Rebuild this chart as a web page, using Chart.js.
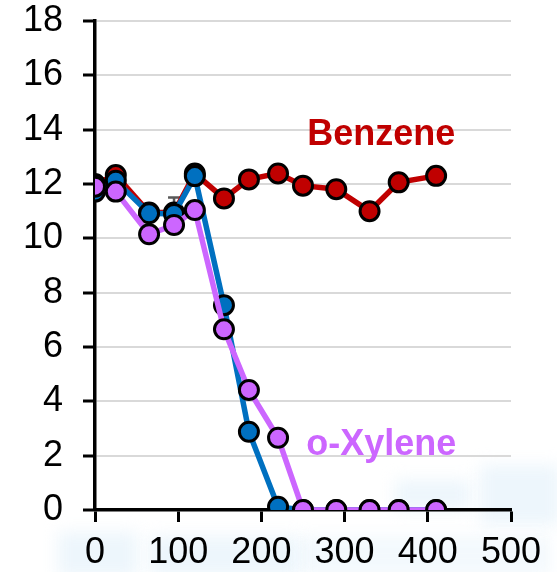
<!DOCTYPE html>
<html>
<head>
<meta charset="utf-8">
<script src="https://cdn.jsdelivr.net/npm/chart.js@4"></script>
<style>
  html, body { margin: 0; padding: 0; background: #fff; }
  #wrap { width: 557px; height: 572px; }
</style>
</head>
<body>
<div id="wrap"><canvas id="myChart" width="557" height="572"></canvas></div>
<script>
// sampling times
var times = [0, 25, 65, 95, 120, 155, 185, 220, 250, 290, 330, 365, 410];

// concentrations per compound
var benzene = [12.0, 12.33, 10.95, 10.95, 12.39, 11.47, 12.17, 12.39, 11.94, 11.81, 11.0, 12.06, 12.3];
var benzeneErr = [0, 0, 0, 0.55, 0, 0, 0, 0, 0, 0.25, 0, 0, 0.3];
var toluene = [11.72, 12.12, 10.92, 10.9, 12.29, 7.54, 2.88, 0.12, 0, 0, 0, 0, 0];
var oXylene = [11.9, 11.72, 10.15, 10.49, 11.04, 6.65, 4.42, 2.66, 0, 0, 0, 0, 0];

var yTicks = [0, 2, 4, 6, 8, 10, 12, 14, 16, 18];
var xTicks = [0, 100, 200, 300, 400, 500];

var RED = '#C00000';
var BLUE = '#0070C0';
var VIOLET = '#CC66FF';
var FONT = 'Arial, "Liberation Sans", sans-serif';

function pts(ys) {
  return times.map(function (t, i) { return { x: t, y: ys[i] }; });
}

function lineSet(label, ys, color, order) {
  return {
    label: label,
    data: pts(ys),
    borderColor: color,
    backgroundColor: color,
    borderWidth: 5.5,
    pointRadius: 9.5,
    pointHoverRadius: 9.5,
    pointBorderWidth: 3,
    pointBorderColor: '#000',
    pointBackgroundColor: color,
    tension: 0,
    order: order
  };
}

// faint blurred blocks under the x labels
var backdrop = {
  id: 'backdrop',
  beforeDraw: function (chart) {
    var ctx = chart.ctx;
    ctx.save();
    ctx.filter = 'blur(8px)';
    ctx.fillStyle = 'rgba(215, 234, 248, 0.45)';
    ctx.fillRect(58, 532, 80, 45);
    ctx.fillRect(150, 536, 150, 40);
    ctx.fillRect(395, 480, 75, 30);
    ctx.fillRect(480, 465, 80, 60);
    ctx.fillStyle = 'rgba(222, 238, 249, 0.35)';
    ctx.fillRect(300, 536, 250, 40);
    ctx.restore();
  }
};

// error bars for benzene, drawn under the markers
var errorBars = {
  id: 'errorBars',
  beforeDatasetsDraw: function (chart) {
    var ctx = chart.ctx, xs = chart.scales.x, ys = chart.scales.y;
    ctx.save();
    ctx.strokeStyle = '#595959';
    ctx.lineWidth = 2.5;
    times.forEach(function (t, i) {
      if (!benzeneErr[i]) return;
      var px = xs.getPixelForValue(t);
      var top = ys.getPixelForValue(benzene[i] + benzeneErr[i]);
      var bot = ys.getPixelForValue(benzene[i] - benzeneErr[i]);
      ctx.beginPath();
      ctx.moveTo(px, top); ctx.lineTo(px, bot);
      ctx.moveTo(px - 6, top); ctx.lineTo(px + 6, top);
      ctx.moveTo(px - 6, bot); ctx.lineTo(px + 6, bot);
      ctx.stroke();
    });
    ctx.restore();
  }
};

// series names written inside the plot
var seriesNames = {
  id: 'seriesNames',
  afterDatasetsDraw: function (chart) {
    var ctx = chart.ctx, xs = chart.scales.x, ys = chart.scales.y;
    ctx.save();
    ctx.font = 'bold 36px ' + FONT;
    ctx.textAlign = 'center';
    ctx.textBaseline = 'middle';
    ctx.fillStyle = RED;
    ctx.fillText('Benzene', xs.getPixelForValue(344), ys.getPixelForValue(13.8));
    ctx.fillStyle = VIOLET;
    ctx.fillText('o-Xylene', xs.getPixelForValue(344), ys.getPixelForValue(2.4));
    ctx.restore();
  }
};

var ctx = document.getElementById('myChart').getContext('2d');
var myChart = new Chart(ctx, {
  type: 'line',
  data: {
    datasets: [
      lineSet('o-Xylene', oXylene, VIOLET, 1),
      lineSet('Toluene', toluene, BLUE, 2),
      lineSet('Benzene', benzene, RED, 3)
    ]
  },
  options: {
    responsive: false,
    animation: false,
    events: [],
    layout: { padding: { top: 21, right: 46, bottom: 0, left: 0 } },
    plugins: {
      legend: { display: false },
      tooltip: { enabled: false }
    },
    scales: {
      x: {
        type: 'linear',
        min: 0,
        max: 500,
        afterBuildTicks: function (scale) {
          scale.ticks = xTicks.map(function (v) { return { value: v }; });
        },
        afterFit: function (scale) { scale.height = 62; },
        grid: {
          drawOnChartArea: false,
          tickColor: '#000',
          tickLength: 12,
          tickWidth: 3
        },
        border: { color: '#000', width: 3.5 },
        ticks: {
          color: '#000',
          padding: 9,
          maxRotation: 0,
          font: { family: FONT, size: 36 }
        }
      },
      y: {
        min: 0,
        max: 18,
        afterBuildTicks: function (scale) {
          scale.ticks = yTicks.map(function (v) { return { value: v }; });
        },
        afterFit: function (scale) {
          scale.width = 95;
          scale.paddingTop = 0;
          scale.paddingBottom = 0;
        },
        grid: {
          color: '#D9D9D9',
          lineWidth: 2,
          tickColor: '#000',
          tickLength: 12,
          tickWidth: 3
        },
        border: { color: '#000', width: 3.5 },
        ticks: {
          color: '#000',
          padding: 20,
          font: { family: FONT, size: 36 }
        }
      }
    }
  },
  plugins: [backdrop, errorBars, seriesNames]
});
</script>
</body>
</html>
